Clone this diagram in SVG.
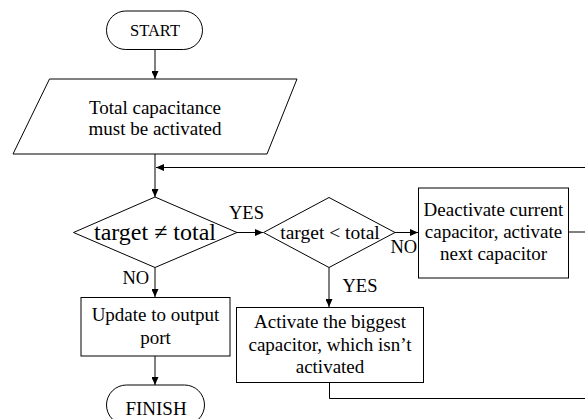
<svg xmlns="http://www.w3.org/2000/svg" width="585" height="419" viewBox="0 0 585 419">
<style>
text{font-family:'Liberation Serif','DejaVu Serif',serif;fill:#000}
.s{fill:#fff;stroke:#000;stroke-width:1}
.t{font-size:19px;text-anchor:middle}
.l{font-size:18.5px}
.c{fill:none;stroke:#000;stroke-width:1}
</style>
<defs>
<marker id="ah" markerUnits="userSpaceOnUse" markerWidth="9" markerHeight="7" refX="8" refY="3.5" orient="auto">
<path d="M0,0 L8,3.5 L0,7 z" fill="#000"/>
</marker>
</defs>
<rect width="585" height="419" fill="#fff"/>
<g id="connectors">
<path class="c" d="M155,49.5 V79" marker-end="url(#ah)"/>
<path class="c" d="M155,154 V197" marker-end="url(#ah)"/>
<path class="c" d="M568,232 H587 V167.5 H156" marker-end="url(#ah)"/>
<path class="c" d="M329.5,382 V398.5 H587 V232"/>
<path class="c" d="M237,232.5 H263" marker-end="url(#ah)"/>
<path class="c" d="M395,232.5 H418" marker-end="url(#ah)"/>
<path class="c" d="M329,267.5 V307" marker-end="url(#ah)"/>
<path class="c" d="M155,267.5 V297" marker-end="url(#ah)"/>
<path class="c" d="M155,356 V385" marker-end="url(#ah)"/>
</g>
<g id="start">
<rect class="s" x="106.5" y="11" width="96" height="38.5" rx="19.25"/>
<text class="t" x="155" y="36" font-family="Liberation Serif, serif" style="font-size:16.5px">START</text>
</g>
<g id="input">
<polygon class="s" points="49.5,79 297,79 267,154 13,154"/>
<text class="t" x="155" y="114">Total capacitance</text>
<text class="t" x="155" y="135">must be activated</text>
</g>
<g id="decision1">
<polygon class="s" points="73.5,232.5 155,197 237,232.5 155,267.5"/>
<text class="t" x="155" y="240" style="font-size:24px">target ≠ total</text>
</g>
<g id="decision2">
<polygon class="s" points="263.5,232.5 329,197.5 395,232.5 329,267.5"/>
<text class="t" x="330" y="239" style="font-size:19.5px">target &lt; total</text>
</g>
<g id="deactivate">
<rect class="s" x="418.5" y="188" width="150" height="90"/>
<text class="t" x="493.5" y="216">Deactivate current</text>
<text class="t" x="493.5" y="238">capacitor, activate</text>
<text class="t" x="493.5" y="260">next capacitor</text>
</g>
<g id="activate">
<rect class="s" x="236.5" y="307.5" width="187" height="75"/>
<text class="t" x="330" y="328">Activate the biggest</text>
<text class="t" x="330" y="351">capacitor, which isn’t</text>
<text class="t" x="330" y="373">activated</text>
</g>
<g id="update">
<rect class="s" x="81" y="297.5" width="149" height="58.5"/>
<text class="t" x="155.5" y="321">Update to output</text>
<text class="t" x="155.5" y="344">port</text>
</g>
<g id="finish">
<rect class="s" x="106.5" y="385" width="98" height="40" rx="20"/>
<text class="t" x="156" y="414.5">FINISH</text>
</g>
<g id="labels">
<text class="l" x="229" y="219">YES</text>
<text class="l" x="122.5" y="284">NO</text>
<text class="l" x="390.5" y="253">NO</text>
<text class="l" x="342.5" y="292">YES</text>
</g>
</svg>
